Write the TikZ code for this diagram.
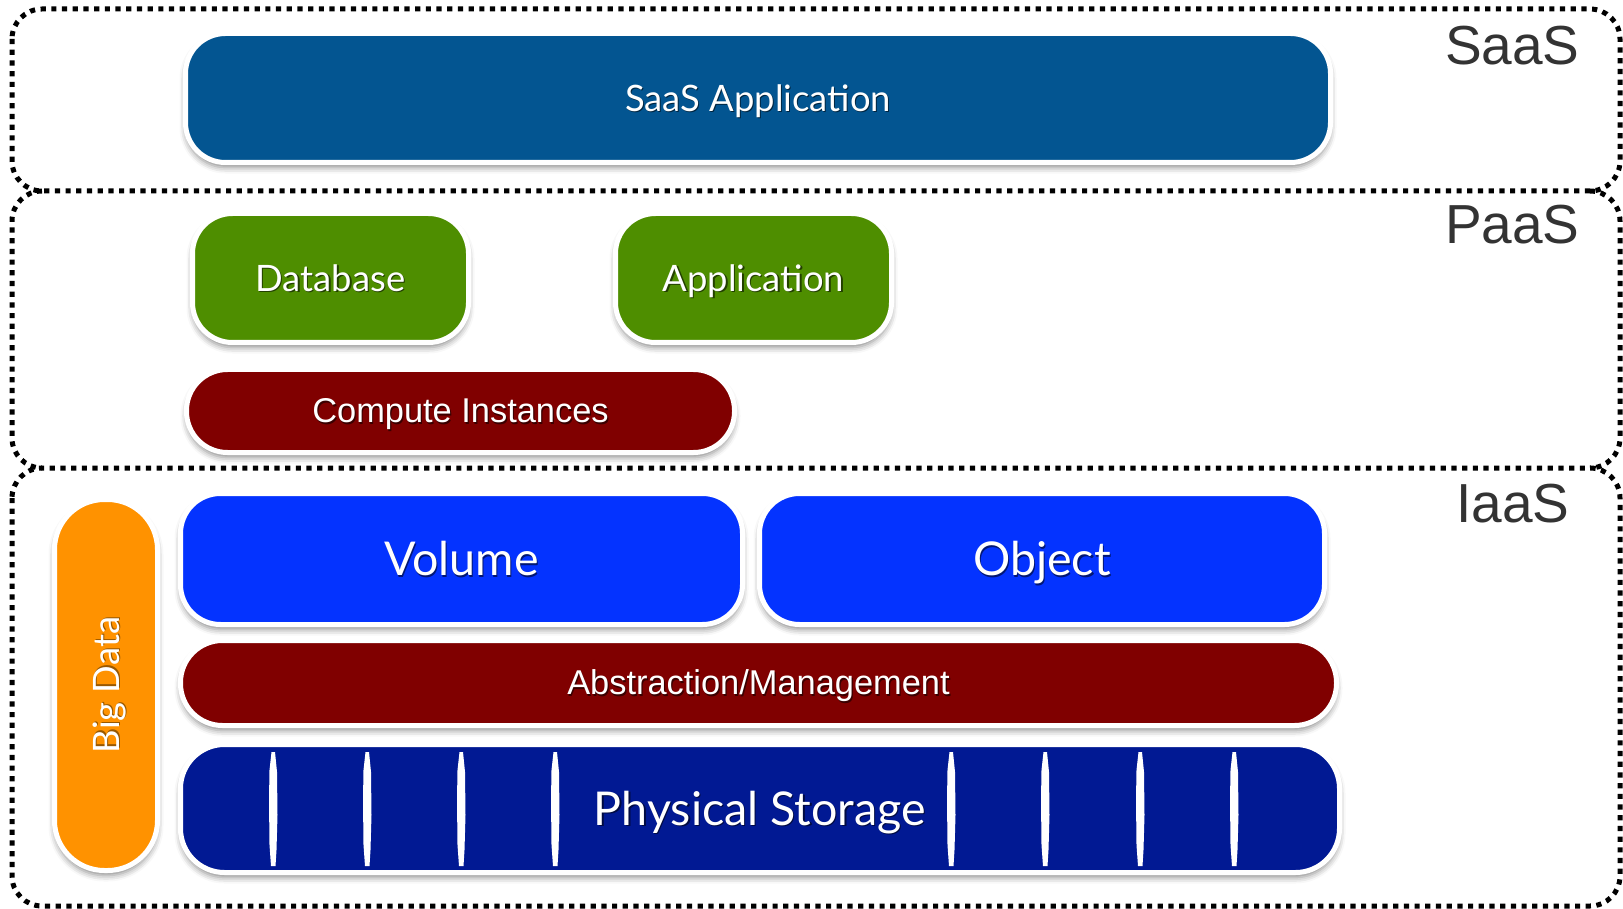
\documentclass[tikz,border=0pt]{standalone}
\usepackage{fontspec}
\usepackage{graphicx}
\setmainfont{Liberation Sans}
\newfontfamily\gill{Lato}
\usetikzlibrary{shadows.blur}
\definecolor{saasblue}{RGB}{3,85,145}
\definecolor{paasgreen}{RGB}{78,142,0}
\definecolor{maroon}{RGB}{128,0,0}
\definecolor{bigorange}{RGB}{255,146,0}
\definecolor{brightblue}{RGB}{4,51,255}
\definecolor{navy}{RGB}{1,25,147}
\definecolor{labelgray}{RGB}{51,51,51}
\newcommand\capbox[1]{\raisebox{0pt}[\fontcharht\font`H][0pt]{#1}}
\newcommand\shtext[2]{\rlap{\kern0.6pt\raisebox{-0.8pt}{\textcolor{#1}{#2}}}#2}
\begin{document}
\begin{tikzpicture}[x=0.5pt,y=-0.5pt,
  layerline/.style={line width=2.5pt, dash pattern=on 2.6pt off 2.75pt, black},
  pill/.style={draw=white, line width=2.5pt, inner sep=0pt, outer sep=0pt, text=white,
    blur shadow={shadow xshift=0pt, shadow yshift=-2.5pt, shadow blur radius=3pt, shadow opacity=45}},
  gilltext/.style={font=\gill\fontsize{18.2}{20}\selectfont},
  gillbig/.style={font=\gill\fontsize{23.3}{26}\selectfont},
  helvtext/.style={font=\fontsize{17.2}{20}\selectfont},
  tierlabel/.style={anchor=base east, text=labelgray, inner sep=0pt, font=\fontsize{27.5}{30}\selectfont},
  stripe/.style={fill=white}
]
\useasboundingbox (0,0) rectangle (1623,909);

% dotted tier frames
\draw[layerline, rounded corners=15pt] (12,9) rectangle (1620,191);
\draw[layerline, rounded corners=15pt] (42,191) -- (12,191) -- (12,468) -- (42,468);
\draw[layerline, rounded corners=15pt] (1590,191) -- (1620,191) -- (1620,468) -- (1590,468);
\draw[layerline, rounded corners=15pt] (12,468) rectangle (1620,906);

% tier labels
\node[tierlabel] (saaslabel) at (1580,65) {SaaS};
\node[tierlabel] (paaslabel) at (1580,244) {PaaS};
\node[tierlabel] (iaaslabel) at (1570,522) {IaaS};

% SaaS
\node[pill, fill=saasblue, rounded corners=20pt, minimum width=572.5pt, minimum height=64.5pt, gilltext]
  (saasapp) at (758,98) {\capbox{\shtext{saasblue!45!black}{SaaS Application}}};

% PaaS
\node[pill, fill=paasgreen, rounded corners=20pt, minimum width=138pt, minimum height=64.5pt, gilltext]
  (database) at (330.5,278) {\capbox{\shtext{paasgreen!45!black}{Database}}};
\node[pill, fill=paasgreen, rounded corners=20pt, minimum width=138pt, minimum height=64.5pt, gilltext]
  (application) at (753.5,278) {\capbox{\shtext{paasgreen!45!black}{Application}}};
\node[pill, fill=maroon, rounded corners=20.5pt, minimum width=274pt, minimum height=41.5pt, helvtext]
  (compute) at (460.5,411) {\capbox{\shtext{maroon!45!black}{Compute Instances}}};

% IaaS
\node[pill, fill=bigorange, rounded corners=25pt, minimum width=51.5pt, minimum height=185.5pt, gilltext]
  (bigdata) at (106,685) {\rotatebox{90}{\capbox{\shtext{bigorange!60!black}{Big Data}}}};
\node[pill, fill=brightblue, rounded corners=20pt, minimum width=281pt, minimum height=65.5pt, gillbig]
  (volume) at (461.5,559) {\capbox{\shtext{brightblue!45!black}{Volume}}};
\node[pill, fill=brightblue, rounded corners=20pt, minimum width=282.5pt, minimum height=65.5pt, gillbig]
  (object) at (1042,559) {\capbox{\shtext{brightblue!45!black}{Object}}};
\node[pill, fill=maroon, rounded corners=21pt, minimum width=578pt, minimum height=42.5pt, helvtext]
  (abstraction) at (758.5,683) {\capbox{\shtext{maroon!45!black}{Abstraction/Management}}};
\node[pill, fill=navy, rounded corners=22pt, minimum width=579.5pt, minimum height=64pt]
  (physical) at (760,808.5) {};

% white stripes on the physical storage bar
\foreach \sx in {273,367,461,555,951,1045,1140,1234}{
  \fill[stripe] (\sx-1.5,752) -- (\sx+2,752) -- (\sx+4,772) -- (\sx+4.5,815) -- (\sx+3.5,850)
    -- (\sx+2.5,866) -- (\sx-2,866) -- (\sx-3.5,845) -- (\sx-4,800) -- (\sx-3.5,770) -- cycle;
}
\node[text=white, inner sep=0pt, gillbig] (physlabel) at (physical)
  {\capbox{\shtext{navy!45!black}{Physical Storage}}};
\end{tikzpicture}
\end{document}
